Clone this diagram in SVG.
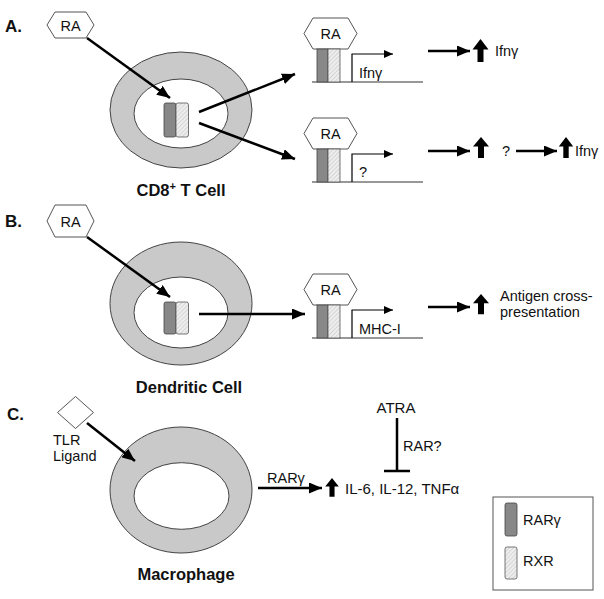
<svg xmlns="http://www.w3.org/2000/svg" width="604" height="599" viewBox="0 0 604 599">
<defs>
<style>
text{font-family:"Liberation Sans",Arial,sans-serif;fill:#111}
.t{font-size:14.5px}
.t15{font-size:15px}
.b{font-size:16.5px;font-weight:bold}
.lab{font-size:17px;font-weight:bold}
.ra{font-size:14.5px}
.cell{fill:#c9c9c9;stroke:#444;stroke-width:1}
.nuc{fill:#fff;stroke:#444;stroke-width:1}
.rar{fill:#888;stroke:#444;stroke-width:0.8}
.rxr{fill:url(#hatch);stroke:#555;stroke-width:0.8}
.hex{fill:#fff;stroke:#555;stroke-width:1}
.arr{stroke:#000;stroke-width:2.5;fill:none;marker-end:url(#ah)}
.prom{stroke:#000;stroke-width:1.2;fill:none;marker-end:url(#ahs)}
.base{stroke:#333;stroke-width:1.2;fill:none}
.inh{stroke:#000;stroke-width:2.5;fill:none}
.up{fill:#000}
</style>
<pattern id="hatch" width="3" height="3" patternUnits="userSpaceOnUse" patternTransform="rotate(45)">
<rect width="3" height="3" fill="#eeeeee"/>
<line x1="0" y1="0" x2="0" y2="3" stroke="#b0b0b0" stroke-width="0.8"/>
</pattern>
<marker id="ah" markerUnits="userSpaceOnUse" markerWidth="13" markerHeight="11" refX="13" refY="5.5" orient="auto"><path d="M0,0 L13,5.5 L0,11 Z" fill="#000"/></marker>
<marker id="ahs" markerUnits="userSpaceOnUse" markerWidth="9" markerHeight="8" refX="9" refY="4" orient="auto"><path d="M0,0 L9,4 L0,8 Z" fill="#000"/></marker>
<path id="uparrow" d="M0,0 L8,10 L3,10 L3,22 L-3,22 L-3,10 L-8,10 Z"/>
<g id="complex">
<line class="base" x1="312" y1="82" x2="423" y2="82"/>
<polygon class="hex" points="304,33.5 313,18 348,18 357,33.5 348,49 313,49"/>
<text class="ra" x="330.5" y="39" text-anchor="middle">RA</text>
<rect class="rar" x="317" y="49" width="11" height="33"/>
<rect class="rxr" x="328" y="49" width="12" height="33"/>
<path class="prom" d="M352,82 V54 H393"/>
</g>
</defs>
<rect width="604" height="599" fill="#fff"/>

<!-- Panel A -->
<g id="panel-a-label"><text class="lab" x="5" y="32">A.</text></g>
<g id="a-ra"><polygon class="hex" points="47,25 55,12 86,12 94,25 86,38 55,38"/><text class="ra" x="70.5" y="30.5" text-anchor="middle">RA</text></g>
<g id="a-cell">
<ellipse class="cell" cx="181" cy="110" rx="71" ry="58"/>
<ellipse class="nuc" cx="181" cy="113.5" rx="47" ry="34.5"/>
<rect class="rar" x="164" y="103" width="12" height="34" rx="2"/>
<rect class="rxr" x="176" y="103" width="12.5" height="34" rx="2"/>
<text class="b" x="181" y="196" text-anchor="middle">CD8<tspan font-size="11" dy="-6">+</tspan><tspan dy="6"> T Cell</tspan></text>
</g>
<g id="a-complex-1"><use href="#complex"/><text class="t" x="359" y="78">Ifnγ</text></g>
<g id="a-complex-2"><use href="#complex" transform="translate(0,100)"/><text class="t" x="359" y="177">?</text></g>
<g id="a-up-1"><use href="#uparrow" class="up" transform="translate(480.5,39) scale(1,1.05)"/><text class="t" x="495" y="56">Ifnγ</text></g>
<g id="a-up-2"><use href="#uparrow" class="up" transform="translate(481,137) scale(1,0.95)"/></g>
<g id="a-q"><text class="t" x="502" y="156">?</text></g>
<g id="a-up-3"><use href="#uparrow" class="up" transform="translate(566,137) scale(0.9,0.95)"/><text class="t" x="575" y="156">Ifnγ</text></g>

<!-- Panel B -->
<g id="panel-b-label"><text class="lab" x="5" y="227">B.</text></g>
<g id="b-ra"><polygon class="hex" points="47,221 55,205 86,205 94,221 86,237 55,237"/><text class="ra" x="70.5" y="226.5" text-anchor="middle">RA</text></g>
<g id="b-cell">
<ellipse class="cell" cx="181" cy="303.5" rx="71" ry="61.5"/>
<ellipse class="nuc" cx="181" cy="312.5" rx="47" ry="35.5"/>
<rect class="rar" x="164" y="302" width="12" height="32" rx="2"/>
<rect class="rxr" x="176" y="302" width="12.5" height="32" rx="2"/>
<text class="b" x="189" y="393" text-anchor="middle">Dendritic Cell</text>
</g>
<g id="b-complex"><use href="#complex" transform="translate(0,256)"/><text class="t" x="359" y="334">MHC-I</text></g>
<g id="b-up"><use href="#uparrow" class="up" transform="translate(481,294) scale(1,0.92)"/><text class="t" x="500" y="301">Antigen cross-</text><text class="t" x="500" y="317">presentation</text></g>

<!-- Panel C -->
<g id="panel-c-label"><text class="lab" x="7" y="420">C.</text></g>
<g id="c-tlr"><polygon class="hex" points="57.5,412.5 75.5,396.5 93.5,412.5 75.5,428.5"/><text class="t" x="53" y="445">TLR</text><text class="t" x="53" y="461">Ligand</text></g>
<g id="c-cell">
<ellipse class="cell" cx="181" cy="490" rx="71" ry="63"/>
<ellipse class="nuc" cx="181.5" cy="496" rx="47.5" ry="33.3"/>
<text class="b" x="186" y="580" text-anchor="middle">Macrophage</text>
</g>
<g id="c-atra"><text class="t15" x="396" y="413" text-anchor="middle">ATRA</text><text class="t" x="403" y="451">RAR?</text></g>
<g id="c-cytokines"><use href="#uparrow" class="up" transform="translate(332,478) scale(0.85,0.85)"/><text class="t15" x="345" y="494">IL-6, IL-12, TNFα</text></g>
<g id="c-rarg-label"><text class="t" x="267" y="483">RARγ</text></g>

<!-- Legend -->
<g id="legend">
<rect x="493" y="497" width="100" height="93" fill="#fff" stroke="#555" stroke-width="1"/>
<rect class="rar" x="505" y="503" width="12" height="33" rx="2"/>
<text class="t" x="523" y="525">RARγ</text>
<rect class="rxr" x="505" y="547" width="12" height="32" rx="2"/>
<text class="t" x="523" y="566">RXR</text>
</g>

<!-- Connectors -->
<g id="connectors">
<line class="arr" x1="87" y1="38" x2="170" y2="98"/>
<line class="arr" x1="199" y1="112" x2="295" y2="74"/>
<line class="arr" x1="199" y1="123" x2="295" y2="159"/>
<line class="arr" x1="428" y1="51" x2="470" y2="51"/>
<line class="arr" x1="428" y1="151" x2="470" y2="151"/>
<line class="arr" x1="516" y1="151" x2="557" y2="151"/>
<line class="arr" x1="87" y1="237" x2="170" y2="297"/>
<line class="arr" x1="199" y1="314" x2="305" y2="314"/>
<line class="arr" x1="428" y1="307" x2="470" y2="307"/>
<line class="arr" x1="87" y1="423" x2="135" y2="461"/>
<line class="arr" x1="258" y1="488" x2="322" y2="488"/>
<path class="inh" d="M397,418 V471 M384,471 H410"/>
</g>
</svg>
